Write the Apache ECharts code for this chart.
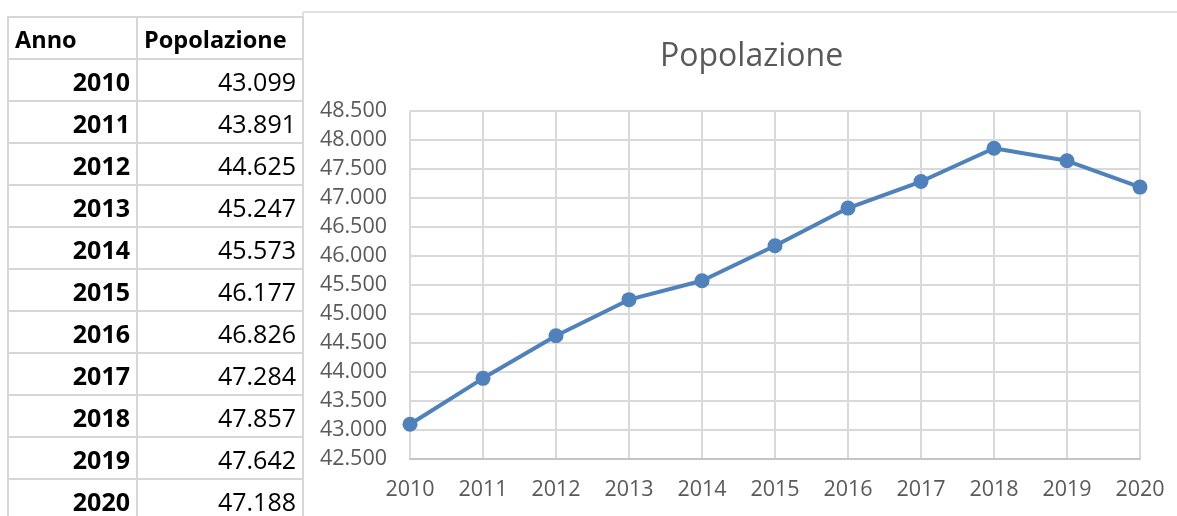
<!DOCTYPE html>
<html>
<head>
<meta charset="utf-8">
<script src="https://cdn.jsdelivr.net/npm/echarts@6/dist/echarts.min.js"></script>
<style>
  html, body { margin: 0; padding: 0; background: #fff; }
  #chart { position: absolute; left: 0; top: 0; width: 1177px; height: 516px; }
  #table { position: absolute; left: 0; top: 0; font-family: "Open Sans", sans-serif; color: #000; }
  .cell { position: absolute; box-sizing: border-box; border: 2px solid #d6d6d6; padding: 0 6px;
          font-size: 25px; white-space: nowrap; overflow: hidden; }
  .b { font-weight: bold; }
  .r { text-align: right; }
  .h { font-size: 23.5px; }
</style>
</head>
<body>
<div id="chart"></div>
<div id="table"></div>
<script>
var years = ['2010', '2011', '2012', '2013', '2014', '2015', '2016', '2017', '2018', '2019', '2020']
var popolazione = [43099, 43891, 44625, 45247, 45573, 46177, 46826, 47284, 47857, 47642, 47188]
var headers = ['Anno', 'Popolazione']

// formato italiano: punto come separatore delle migliaia
function fmt (v) {
  var k = Math.floor(v / 1000)
  var r = String(v % 1000)
  while (r.length < 3) r = '0' + r
  return k + '.' + r
}

// tabella a sinistra
var tbl = document.getElementById('table')
var colX = [7, 136, 302]
var rowY = [16, 58]
for (var i = 0; i < years.length; i++) rowY.push(58 + 42 * (i + 1))
function addCell (x0, x1, y0, y1, text, cls) {
  var d = document.createElement('div')
  d.className = 'cell ' + cls
  d.style.left = x0 + 'px'
  d.style.top = y0 + 'px'
  d.style.width = (x1 - x0 + 2) + 'px'
  d.style.height = (y1 - y0 + 2) + 'px'
  d.style.lineHeight = (y1 - y0) + 'px'
  d.textContent = text
  tbl.appendChild(d)
}
addCell(colX[0], colX[1], rowY[0], rowY[1], headers[0], 'b h')
addCell(colX[1], colX[2], rowY[0], rowY[1], headers[1], 'b h')
for (var i = 0; i < years.length; i++) {
  addCell(colX[0], colX[1], rowY[i + 1], rowY[i + 2], years[i], 'b r')
  addCell(colX[1], colX[2], rowY[i + 1], rowY[i + 2], fmt(popolazione[i]), 'r')
}

var myChart = echarts.init(document.getElementById('chart'))
var option = {
  animation: false,
  textStyle: { fontFamily: 'Open Sans' },
  title: {
    text: 'Popolazione',
    left: 655,
    top: 36,
    textStyle: { fontSize: 32, fontWeight: 'normal', color: '#595959', fontFamily: 'Open Sans' }
  },
  graphic: [
    { type: 'line', shape: { x1: 303, y1: 12, x2: 1177, y2: 12 }, style: { stroke: '#d9d9d9', lineWidth: 1.5 } },
    { type: 'line', shape: { x1: 303, y1: 12, x2: 303, y2: 516 }, style: { stroke: '#d9d9d9', lineWidth: 1.5 } }
  ],
  grid: { left: 410, right: 37, top: 111, bottom: 57 },
  xAxis: {
    type: 'category',
    boundaryGap: false,
    data: years,
    axisLine: { lineStyle: { color: '#c4c4c4', width: 2 } },
    axisTick: { show: false },
    axisLabel: { color: '#595959', fontSize: 21.5, margin: 20 },
    splitLine: { show: true, lineStyle: { color: '#d9d9d9', width: 2 } }
  },
  yAxis: {
    type: 'value',
    min: 42500,
    max: 48500,
    interval: 500,
    axisLine: { show: false },
    axisTick: { show: false },
    axisLabel: { color: '#595959', fontSize: 21.5, margin: 23, formatter: fmt },
    splitLine: { lineStyle: { color: '#d9d9d9', width: 2 } }
  },
  series: [
    {
      name: 'Popolazione',
      type: 'line',
      data: popolazione,
      symbol: 'circle',
      symbolSize: 15,
      lineStyle: { color: '#4f81bd', width: 4 },
      itemStyle: { color: '#4f81bd' }
    }
  ]
}
myChart.setOption(option)
</script>
</body>
</html>
